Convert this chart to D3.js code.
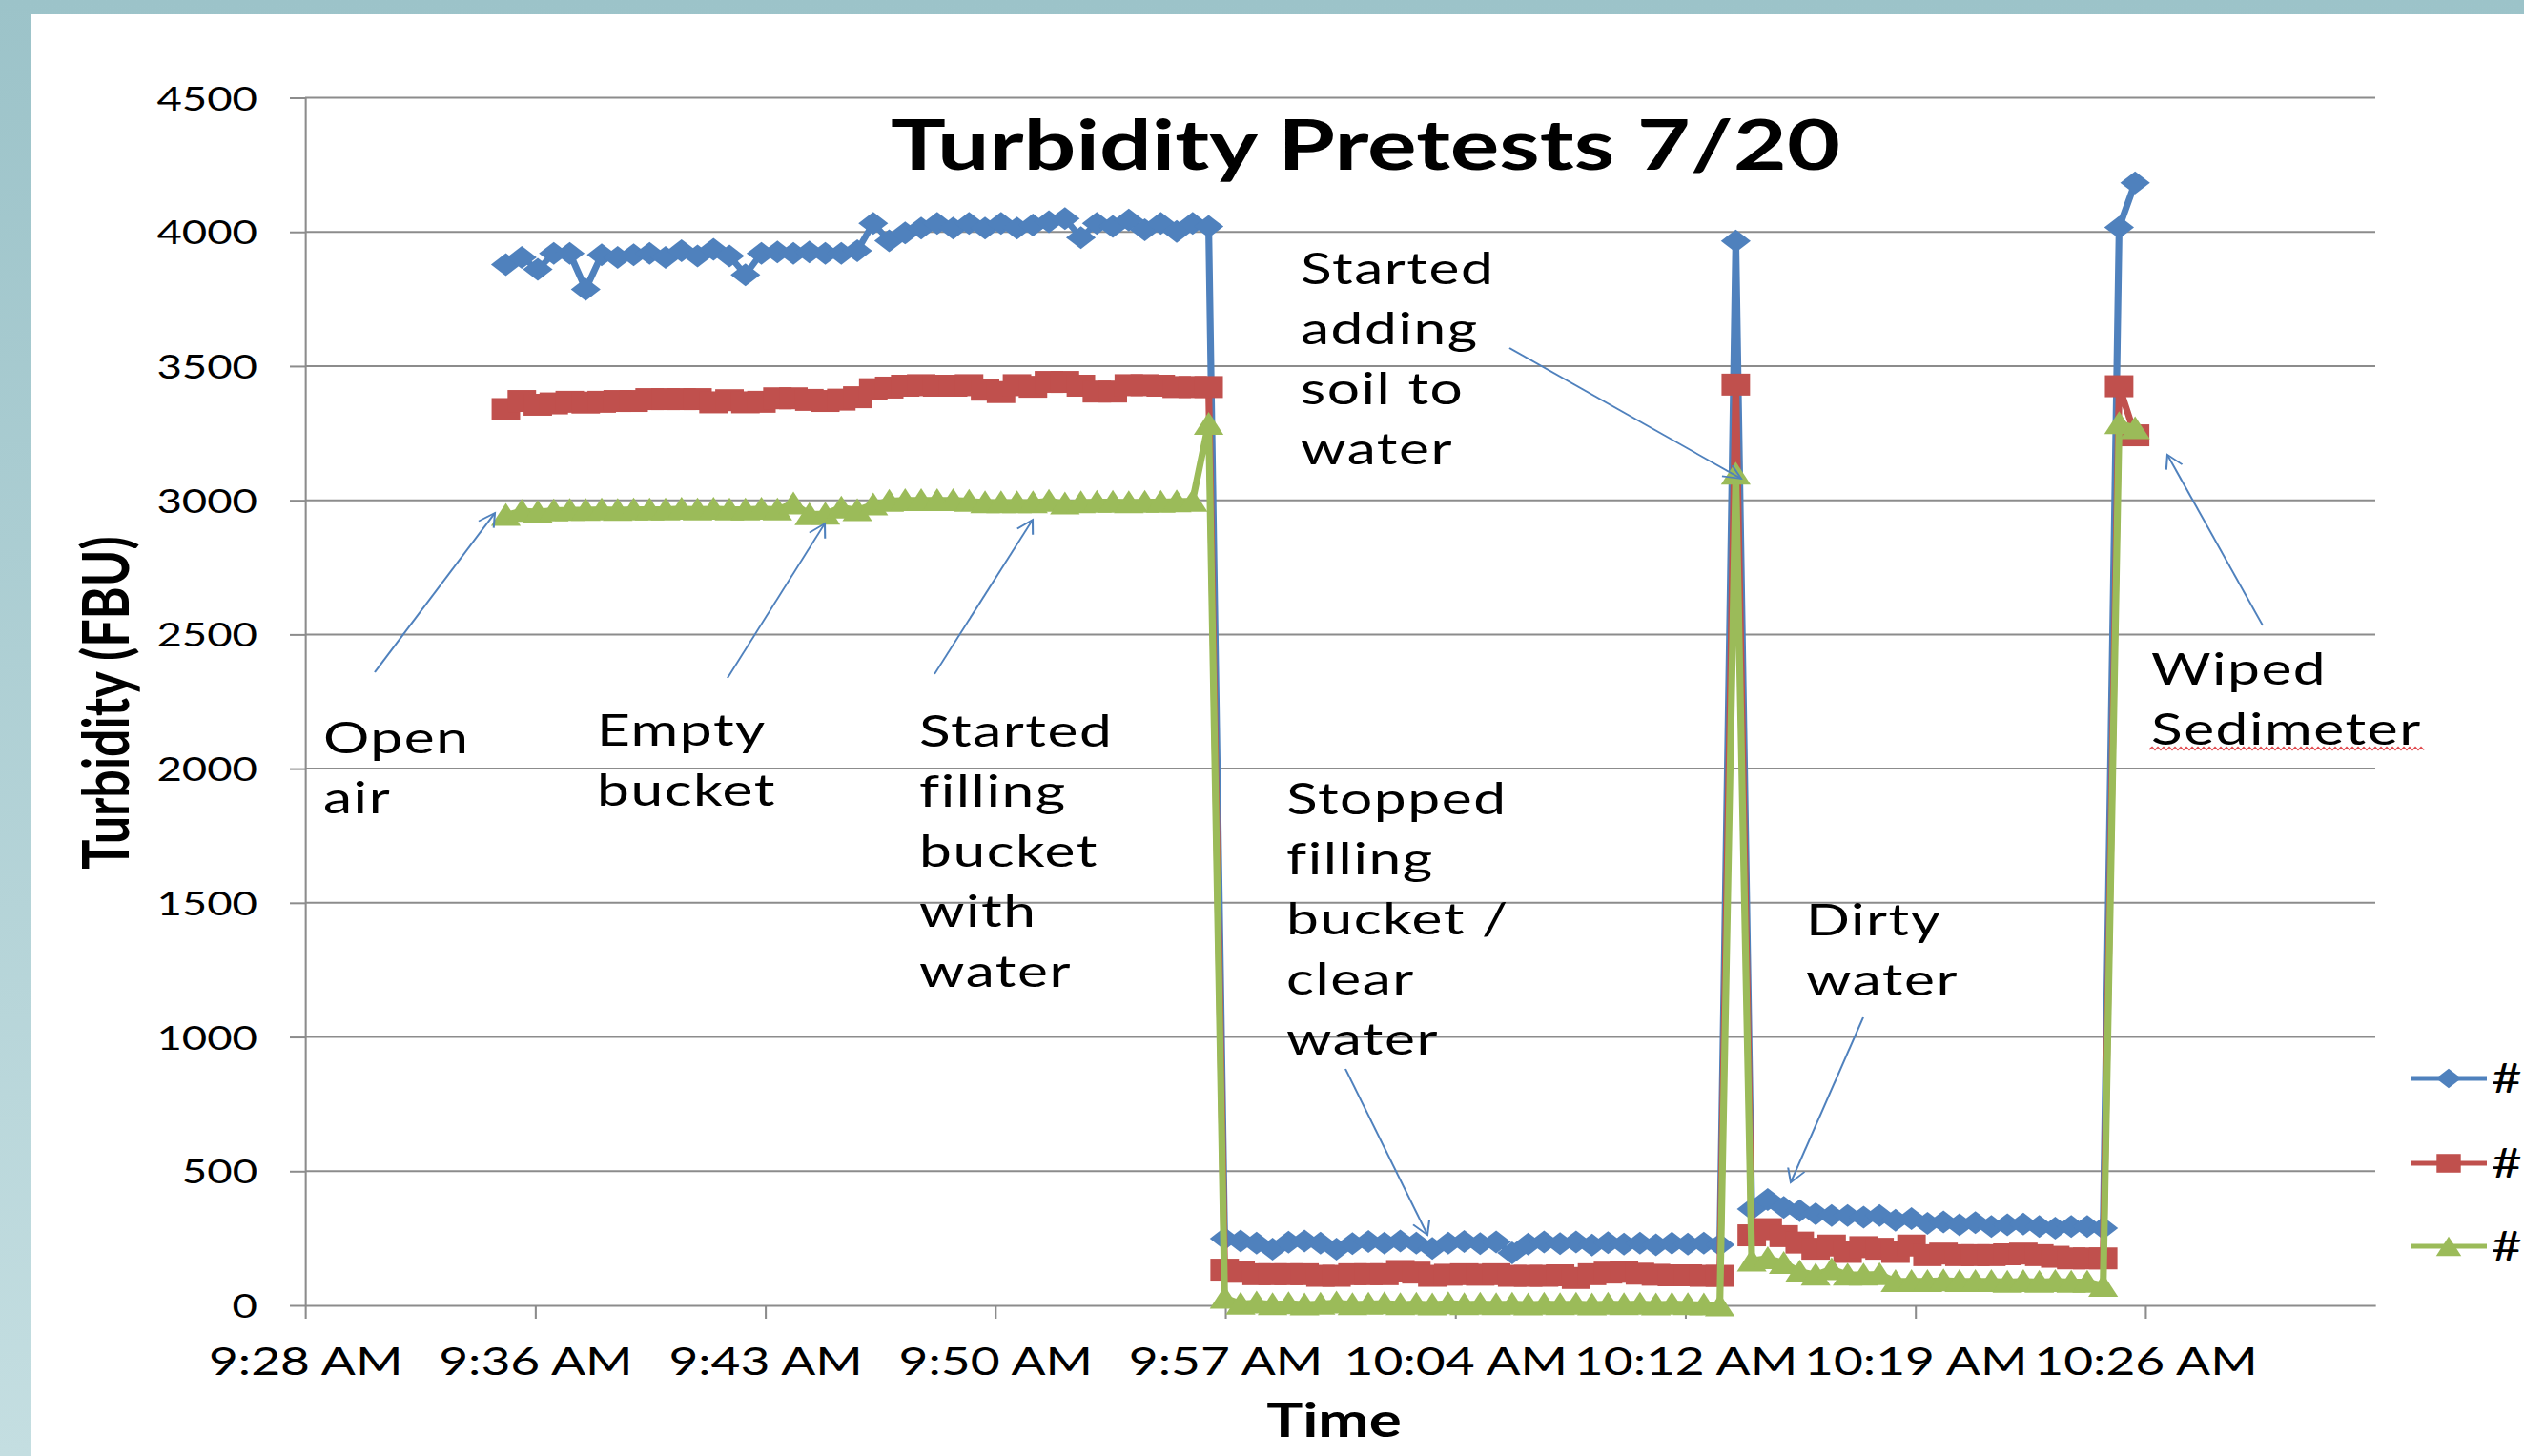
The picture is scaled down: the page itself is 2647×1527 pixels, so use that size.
<!DOCTYPE html>
<html>
<head>
<meta charset="utf-8">
<script src="https://cdn.jsdelivr.net/npm/d3@7"></script>
<style>
  html, body { margin: 0; padding: 0; background: #fff; overflow: hidden; }
  svg { display: block; }
  text { font-family: Lato, "Open Sans", sans-serif; fill: #000; }
</style>
</head>
<body>
<svg id="chart"></svg>
<script>
// ---- data ----

const chartTitle = "Turbidity Pretests 7/20";

// one reading every 30 s
const sampleTimes = [
  "9:35:05", "9:35:35", "9:36:05", "9:36:35", "9:37:05", "9:37:35", "9:38:05", "9:38:35", "9:39:05", "9:39:35",
  "9:40:05", "9:40:35", "9:41:05", "9:41:35", "9:42:05", "9:42:35", "9:43:05", "9:43:35", "9:44:05", "9:44:35",
  "9:45:05", "9:45:35", "9:46:05", "9:46:35", "9:47:05", "9:47:35", "9:48:05", "9:48:35", "9:49:05", "9:49:35",
  "9:50:05", "9:50:35", "9:51:05", "9:51:35", "9:52:05", "9:52:35", "9:53:05", "9:53:35", "9:54:05", "9:54:35",
  "9:55:05", "9:55:35", "9:56:05", "9:56:35", "9:57:05", "9:57:35", "9:58:05", "9:58:35", "9:59:05", "9:59:35",
  "10:00:05", "10:00:35", "10:01:05", "10:01:35", "10:02:05", "10:02:35", "10:03:05", "10:03:35", "10:04:05", "10:04:35",
  "10:05:05", "10:05:35", "10:06:05", "10:06:35", "10:07:05", "10:07:35", "10:08:05", "10:08:35", "10:09:05", "10:09:35",
  "10:10:05", "10:10:35", "10:11:05", "10:11:35", "10:12:05", "10:12:35", "10:13:05", "10:13:35", "10:14:05", "10:14:35",
  "10:15:05", "10:15:35", "10:16:05", "10:16:35", "10:17:05", "10:17:35", "10:18:05", "10:18:35", "10:19:05", "10:19:35",
  "10:20:05", "10:20:35", "10:21:05", "10:21:35", "10:22:05", "10:22:35", "10:23:05", "10:23:35", "10:24:05", "10:24:35",
  "10:25:05", "10:25:35", "10:26:05"
];

const sensor1 = [
  3878, 3905, 3860, 3920, 3920, 3786, 3915, 3905, 3915, 3920,
  3905, 3930, 3910, 3935, 3910, 3840, 3920, 3925, 3920, 3925,
  3920, 3920, 3930, 4032, 3967, 3996, 4014, 4032, 4014, 4032,
  4014, 4032, 4014, 4026, 4038, 4050, 3979, 4032, 4020, 4044,
  4008, 4032, 4002, 4032, 4020, 249, 240, 232, 210, 235,
  240, 232, 210, 230, 238, 232, 240, 232, 212, 232,
  238, 230, 236, 195, 228, 236, 230, 236, 225, 234,
  228, 232, 226, 232, 228, 232, 226, 3966, 359, 394,
  365, 353, 341, 335, 335, 329, 335, 317, 323, 306,
  311, 300, 308, 294, 300, 303, 294, 288, 294, 294,
  288, 4017, 4183
];

const sensor2 = [
  3340, 3370, 3356, 3361, 3367, 3364, 3367, 3370, 3370, 3377,
  3377, 3377, 3377, 3365, 3373, 3365, 3367, 3380, 3380, 3374,
  3370, 3375, 3384, 3414, 3420, 3427, 3429, 3427, 3427, 3429,
  3412, 3403, 3429, 3423, 3441, 3441, 3427, 3405, 3405, 3429,
  3429, 3427, 3422, 3422, 3422, 133, 125, 116, 116, 116,
  116, 110, 110, 116, 116, 116, 128, 122, 110, 114,
  116, 114, 116, 110, 110, 110, 112, 102, 116, 122,
  125, 118, 114, 112, 112, 110, 110, 3431, 261, 284,
  258, 234, 211, 223, 199, 217, 211, 199, 223, 187,
  193, 187, 187, 187, 190, 193, 187, 181, 175, 175,
  175, 3425, 3242
];

const sensor3 = [
  2947, 2962, 2959, 2964, 2966, 2966, 2968, 2966, 2968, 2968,
  2968, 2970, 2968, 2970, 2968, 2968, 2970, 2968, 2990, 2950,
  2952, 2975, 2965, 2986, 3000, 3002, 3002, 3002, 3002, 3000,
  2994, 2994, 2994, 2994, 3000, 2990, 2994, 2996, 2996, 2994,
  2996, 2996, 2998, 3000, 3287, 30, 8, 12, 6, 10,
  5, 8, 12, 6, 8, 10, 6, 8, 5, 10,
  6, 8, 6, 8, 5, 8, 6, 8, 5, 8,
  6, 8, 5, 8, 6, 5, 2, 3101, 169, 178,
  160, 128, 116, 137, 116, 116, 118, 92, 92, 92,
  95, 92, 92, 92, 90, 92, 90, 92, 90, 90,
  75, 3289, 3271
];

const legendLabels = ["#", "#", "#"];

const yTicks = [0, 500, 1000, 1500, 2000, 2500, 3000, 3500, 4000, 4500];
const xDomain = ["9:28:48", "10:33:36"];
const xTickTimes = ["9:28:48", "9:36:00", "9:43:12", "9:50:24", "9:57:36", "10:04:48", "10:12:00", "10:19:12", "10:26:24"];
const xTickLabels = ["9:28 AM", "9:36 AM", "9:43 AM", "9:50 AM", "9:57 AM", "10:04 AM", "10:12 AM", "10:19 AM", "10:26 AM"];

const notes = [
  ["Open", "air"],
  ["Empty", "bucket"],
  ["Started", "filling", "bucket", "with", "water"],
  ["Started", "adding", "soil to", "water"],
  ["Stopped", "filling", "bucket /", "clear", "water"],
  ["Dirty", "water"],
  ["Wiped", "Sedimeter"]
];

// ---- layout ----

const W = 2647, H = 1527;
const SX = 1.3;              // the pasted chart is stretched sideways on the slide
const vx = px => px / SX;    // screen px -> drawing units

// note text corner and arrow ends, screen px
const noteLayout = [
  {x: 339, y: 790, from: [393, 705], to: [519, 538]},
  {x: 626, y: 782, from: [763, 711], to: [865, 549]},
  {x: 964, y: 783, from: [980, 707], to: [1083, 545]},
  {x: 1364, y: 298, from: [1583, 365], to: [1826, 502]},
  {x: 1349, y: 854, from: [1411, 1121], to: [1497, 1295]},
  {x: 1894, y: 981, from: [1954, 1067], to: [1878, 1240]},
  {x: 2256, y: 718, from: [2373, 656], to: [2273, 477]}
];
const noteGap = 63;

const gridColor = "#8c8c8c";
const colors = ["#4f81bd", "#c0504d", "#9bbb59"];

const parseTime = d3.timeParse("%H:%M:%S");
const times = sampleTimes.map(parseTime);

const x = d3.scaleTime()
  .domain(xDomain.map(parseTime))
  .range([vx(320), vx(2491)]);

const y = d3.scaleLinear()
  .domain([0, 4500])
  .range([1369, 102.5]);

const svg = d3.select("#chart")
  .attr("width", W)
  .attr("height", H)
  .attr("viewBox", `0 0 ${vx(W)} ${H}`)
  .attr("preserveAspectRatio", "none");

const defs = svg.append("defs");

// slide frame
const frame = defs.append("linearGradient").attr("id", "frame")
  .attr("x1", 0).attr("y1", 0).attr("x2", 0).attr("y2", 1);
frame.append("stop").attr("offset", "0%").attr("stop-color", "#9cc3c9");
frame.append("stop").attr("offset", "100%").attr("stop-color", "#c4dee1");

defs.append("marker")
  .attr("id", "head")
  .attr("markerUnits", "userSpaceOnUse")
  .attr("viewBox", "-18 -10 20 20")
  .attr("markerWidth", 20).attr("markerHeight", 20)
  .attr("refX", 0).attr("refY", 0)
  .attr("orient", "auto")
  .append("path")
  .attr("d", "M-14,-7L0,0L-14,7")
  .attr("fill", "none")
  .attr("stroke", "#4f81bd")
  .attr("stroke-width", 1.6);

svg.append("rect").attr("width", vx(W)).attr("height", H).attr("fill", "url(#frame)");
svg.append("rect")
  .attr("x", vx(33)).attr("y", 15)
  .attr("width", vx(W - 33)).attr("height", H - 15)
  .attr("fill", "#fff");

// gridlines
svg.append("g")
  .selectAll("line")
  .data(yTicks.filter(d => d > 0))
  .join("line")
  .attr("x1", x.range()[0])
  .attr("x2", x.range()[1])
  .attr("y1", d => y(d))
  .attr("y2", d => y(d))
  .attr("stroke", gridColor)
  .attr("stroke-width", 2);

// axes
let yAxis = svg.append("g")
  .attr("transform", `translate(${x.range()[0]},0)`)
  .call(d3.axisLeft(y)
    .tickValues(yTicks)
    .tickFormat(d3.format("d"))
    .tickSize(vx(16)).tickSizeOuter(0).tickPadding(vx(34)));

let xAxis = svg.append("g")
  .attr("transform", `translate(0,${y(0)})`)
  .call(d3.axisBottom(x)
    .tickValues(xTickTimes.map(parseTime))
    .tickFormat((d, i) => xTickLabels[i])
    .tickSize(14).tickSizeOuter(0).tickPadding(30));

yAxis.select(".domain").attr("stroke", gridColor).attr("stroke-width", 1.6);
yAxis.selectAll(".tick line").attr("stroke", gridColor).attr("stroke-width", 2);
yAxis.selectAll(".tick text")
  .attr("font-family", "Lato, sans-serif")
  .attr("font-size", 35)
  .attr("dy", "0.36em")
  .attr("fill", "#000");

xAxis.select(".domain").attr("stroke", gridColor).attr("stroke-width", 2);
xAxis.selectAll(".tick line").attr("stroke", gridColor).attr("stroke-width", 1.6);
xAxis.selectAll(".tick text")
  .attr("font-family", "Lato, sans-serif")
  .attr("font-size", 41)
  .attr("fill", "#000");

// marker shapes, sized in drawing units
const diamond = {
  draw(ctx, r) {
    ctx.moveTo(0, -r); ctx.lineTo(r, 0); ctx.lineTo(0, r); ctx.lineTo(-r, 0); ctx.closePath();
  }
};
const square = {
  draw(ctx, r) {
    ctx.rect(-r, -r, 2 * r, 2 * r);
  }
};
const triangle = {
  draw(ctx, r) {
    ctx.moveTo(0, -r); ctx.lineTo(r, r); ctx.lineTo(-r, r); ctx.closePath();
  }
};

const series = [
  {label: legendLabels[0], values: sensor1, color: colors[0], shape: diamond, r: 12},
  {label: legendLabels[1], values: sensor2, color: colors[1], shape: square, r: 11.5},
  {label: legendLabels[2], values: sensor3, color: colors[2], shape: triangle, r: 12}
];

const line = d3.line()
  .x((d, i) => x(times[i]))
  .y(d => y(d));

series.forEach(function (s) {
  let g = svg.append("g");
  g.append("path")
    .attr("d", line(s.values))
    .attr("fill", "none")
    .attr("stroke", s.color)
    .attr("stroke-width", 5.5)
    .attr("stroke-linejoin", "round");
  g.selectAll("path.mark")
    .data(s.values)
    .join("path")
    .attr("class", "mark")
    .attr("transform", (d, i) => `translate(${x(times[i])},${y(d)})`)
    .attr("d", d3.symbol().type(s.shape).size(s.r))
    .attr("fill", s.color);
});

// title and axis titles
svg.append("text")
  .attr("x", vx(934))
  .attr("y", 178)
  .attr("font-size", 72)
  .attr("font-weight", "bold")
  .attr("textLength", vx(996))
  .attr("lengthAdjust", "spacingAndGlyphs")
  .text(chartTitle);

svg.append("text")
  .attr("x", vx(1399))
  .attr("y", 1507)
  .attr("text-anchor", "middle")
  .attr("font-size", 49)
  .attr("font-weight", "bold")
  .text("Time");

svg.append("text")
  .attr("transform", `translate(${vx(135)},737) rotate(-90)`)
  .attr("text-anchor", "middle")
  .attr("font-size", 52)
  .attr("font-weight", "bold")
  .text("Turbidity (FBU)");

// notes with arrows
noteLayout.forEach(function (p, i) {
  svg.append("line")
    .attr("x1", vx(p.from[0])).attr("y1", p.from[1])
    .attr("x2", vx(p.to[0])).attr("y2", p.to[1])
    .attr("stroke", "#4f81bd")
    .attr("stroke-width", 1.6)
    .attr("marker-end", "url(#head)");

  let t = svg.append("text")
    .attr("font-size", 46.5)
    .attr("letter-spacing", 1.2);
  t.selectAll("tspan")
    .data(notes[i])
    .join("tspan")
    .attr("x", vx(p.x))
    .attr("y", (d, j) => p.y + j * noteGap)
    .text(d => d);
});

// spell-check squiggle under "Sedimeter"
let squiggle = d3.path();
let sx0 = vx(2254), sx1 = vx(2544), step = vx(3);
squiggle.moveTo(sx0, 786);
for (let k = 1; sx0 + k * step <= sx1; k++) {
  squiggle.lineTo(sx0 + k * step, k % 2 ? 783.5 : 786.5);
}
svg.append("path")
  .attr("d", squiggle.toString())
  .attr("fill", "none")
  .attr("stroke", "#e0484d")
  .attr("stroke-width", 1.2);

// legend
const legendY = [1131, 1220, 1307];
let legend = svg.append("g");
series.forEach(function (s, i) {
  legend.append("line")
    .attr("x1", vx(2528)).attr("x2", vx(2608))
    .attr("y1", legendY[i]).attr("y2", legendY[i])
    .attr("stroke", s.color)
    .attr("stroke-width", 5);
  legend.append("path")
    .attr("transform", `translate(${vx(2568)},${legendY[i]})`)
    .attr("d", d3.symbol().type(s.shape).size(s.r * 0.85))
    .attr("fill", s.color);
  legend.append("text")
    .attr("x", vx(2613))
    .attr("y", legendY[i])
    .attr("dy", "0.36em")
    .attr("font-size", 42)
    .text(s.label);
});
</script>
</body>
</html>
